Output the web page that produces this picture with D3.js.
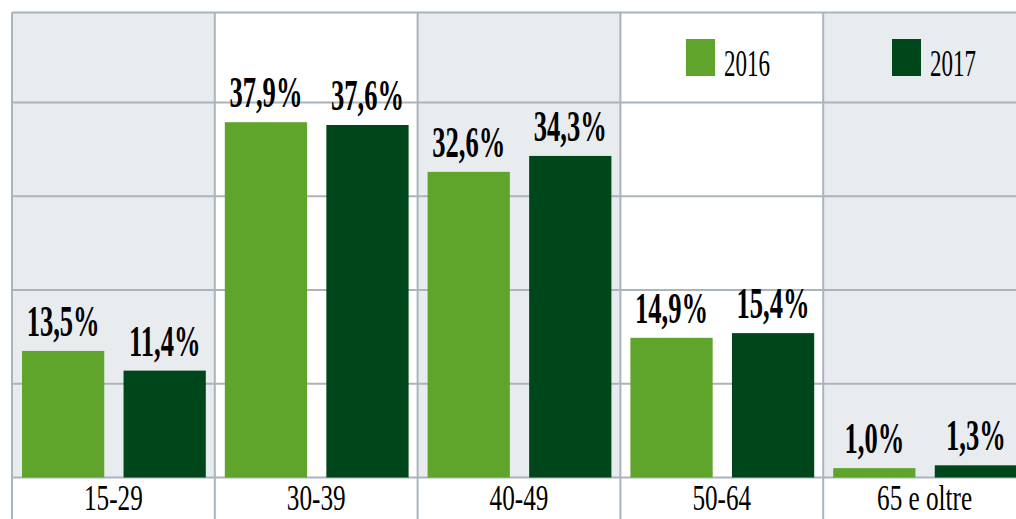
<!DOCTYPE html>
<html>
<head>
<meta charset="utf-8">
<script src="https://cdn.jsdelivr.net/npm/d3@7"></script>
<style>
  html, body { margin: 0; padding: 0; background: #fff; }
  svg { display: block; }
  text { font-family: "Liberation Serif", "DejaVu Serif", serif; fill: #000; }
</style>
</head>
<body>
<svg width="1016" height="519"></svg>
<script>
const categories = ["15-29", "30-39", "40-49", "50-64", "65 e oltre"];
const years = ["2016", "2017"];
const values2016 = [13.5, 37.9, 32.6, 14.9, 1.0];
const values2017 = [11.4, 37.6, 34.3, 15.4, 1.3];
const yTicks = [0, 10, 20, 30, 40];

const colors = { "2016": "#5fa52b", "2017": "#00461b" };
const bandFill = ["#e9ecef", "#ffffff"];
const gridColor = "#a9b4bc";

const W = 1016, H = 519;
const plotLeft = 12, plotRight = 1026, plotTop = 12.5, plotBottom = 477.5;

const svg = d3.select("svg");

// scales
const x0 = d3.scaleBand(categories, [plotLeft, plotRight]).paddingInner(0).paddingOuter(0);
const x1 = d3.scaleBand(years, [10, x0.bandwidth() - 9]).paddingInner(0.19);
const y = d3.scaleLinear([0, 49.6], [plotBottom, plotTop]);

// alternating bands
svg.append("g").selectAll("rect")
  .data(categories)
  .join("rect")
  .attr("x", d => x0(d))
  .attr("y", plotTop)
  .attr("width", x0.bandwidth())
  .attr("height", plotBottom - plotTop)
  .attr("fill", (d, i) => bandFill[i % 2]);

// horizontal gridlines + top border
svg.append("g").selectAll("line")
  .data(yTicks.concat([49.6]))
  .join("line")
  .attr("x1", plotLeft)
  .attr("x2", plotRight)
  .attr("y1", d => y(d))
  .attr("y2", d => y(d))
  .attr("stroke", gridColor)
  .attr("stroke-width", 2);

// vertical separators, running down to the bottom edge
svg.append("g").selectAll("line")
  .data(categories)
  .join("line")
  .attr("x1", d => x0(d))
  .attr("x2", d => x0(d))
  .attr("y1", plotTop)
  .attr("y2", H)
  .attr("stroke", gridColor)
  .attr("stroke-width", 2);

// bars
const rows = categories.map((c, i) => ({ cat: c, vals: [
  { year: "2016", v: values2016[i] },
  { year: "2017", v: values2017[i] }
]}));

const groups = svg.append("g").selectAll("g")
  .data(rows)
  .join("g")
  .attr("transform", d => `translate(${x0(d.cat)},0)`);

groups.selectAll("rect")
  .data(d => d.vals)
  .join("rect")
  .attr("x", d => x1(d.year))
  .attr("y", d => y(d.v))
  .attr("width", x1.bandwidth())
  .attr("height", d => plotBottom - y(d.v))
  .attr("fill", d => colors[d.year]);

// value labels (condensed bold serif)
const fmt = v => v.toFixed(1).replace(".", ",") + "%";
groups.selectAll("g.lbl")
  .data(d => d.vals)
  .join("g")
  .attr("class", "lbl")
  .attr("transform", d => `translate(${x1(d.year) + x1.bandwidth() / 2},${y(d.v) - 15}) scale(0.59,1)`)
  .append("text")
  .attr("text-anchor", "middle")
  .attr("font-size", 45)
  .attr("font-weight", "bold")
  .text(d => fmt(d.v));

// category labels
svg.append("g").selectAll("g")
  .data(categories)
  .join("g")
  .attr("transform", d => `translate(${x0(d) + x0.bandwidth() / 2},510) scale(0.7,1)`)
  .append("text")
  .attr("text-anchor", "middle")
  .attr("font-size", 36)
  .text(d => d);

// legend
const legendX = { "2016": 686, "2017": 892 };
const legend = svg.append("g").selectAll("g")
  .data(years)
  .join("g")
  .attr("transform", d => `translate(${legendX[d]},39)`);
legend.append("rect")
  .attr("width", 29)
  .attr("height", 37)
  .attr("fill", d => colors[d]);
legend.append("g")
  .attr("transform", "translate(38,37) scale(0.59,1)")
  .append("text")
  .attr("font-size", 39)
  .text(d => d);
</script>
</body>
</html>
